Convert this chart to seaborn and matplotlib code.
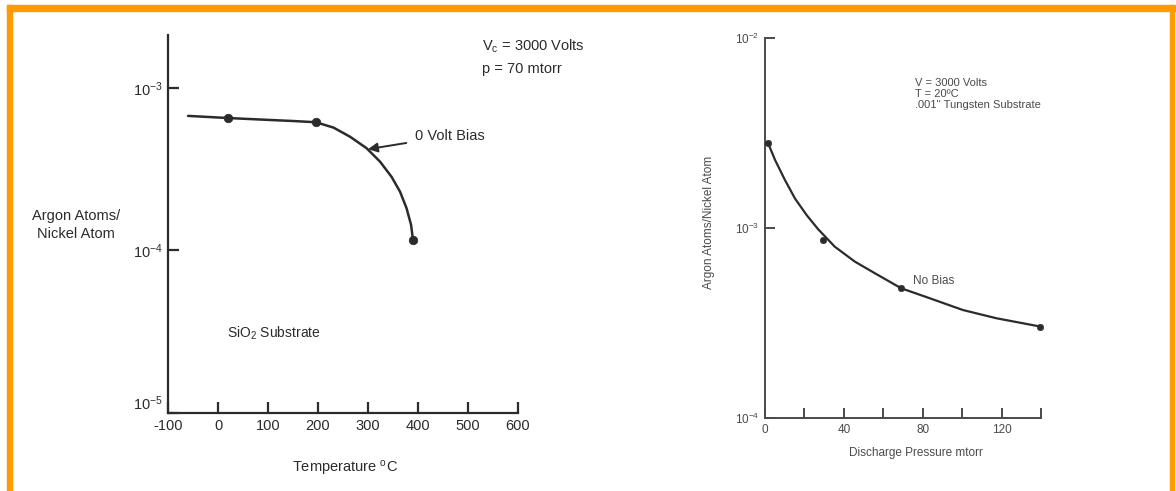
import numpy as np
import matplotlib
matplotlib.use("Agg")
import matplotlib.pyplot as plt
import seaborn as sns
from matplotlib.patches import Rectangle


# left panel: argon content vs substrate temperature (0 V bias)
temp_pts = [20, 196, 390]
temp_vals = [6.53e-4, 6.15e-4, 1.16e-4]
temp_curve_x = [-60, 20, 100, 150, 196, 231, 264, 297, 324, 347, 364,
                377, 386, 390]
temp_curve_y = [6.73e-4, 6.53e-4, 6.36e-4, 6.26e-4, 6.15e-4, 5.70e-4,
                5.01e-4, 4.26e-4, 3.52e-4, 2.84e-4, 2.30e-4, 1.82e-4,
                1.44e-4, 1.16e-4]
temp_ticks = [-100, 0, 100, 200, 300, 400, 500, 600]

# right panel: argon content vs discharge pressure (no bias)
pres_pts = [1.5, 29.5, 69, 139.5]
pres_vals = [2.81e-3, 8.65e-4, 4.82e-4, 3.03e-4]
pres_curve_x = [1.5, 5.1, 10.1, 15.2, 21.1, 27, 35.4, 45.6, 55.7, 69,
                83.5, 100.4, 117.3, 139.5]
pres_curve_y = [2.81e-3, 2.28e-3, 1.79e-3, 1.43e-3, 1.17e-3, 9.84e-4,
                7.97e-4, 6.65e-4, 5.78e-4, 4.82e-4, 4.27e-4, 3.70e-4,
                3.35e-4, 3.03e-4]
pres_ticks = [0, 20, 40, 60, 80, 100, 120, 140]
pres_labels = ["0", "", "40", "", "80", "", "120", ""]

INK = "#2b2b2b"
INK2 = "#4a4a4a"
ORANGE = "#FF9A00"

sns.set_style("ticks")
plt.rcParams["font.family"] = ["Liberation Sans", "DejaVu Sans"]
plt.rcParams["mathtext.fontset"] = "custom"
plt.rcParams["mathtext.rm"] = "Liberation Sans"
plt.rcParams["mathtext.it"] = "Liberation Sans"
plt.rcParams["axes.unicode_minus"] = False

fig = plt.figure(figsize=(11.76, 4.91), dpi=100)
fig.patch.set_facecolor("white")

##############################################################################
# LEFT PANEL
##############################################################################

ax1 = fig.add_axes([0.1429, 0.1589, 0.2976, 0.770])
sns.lineplot(x=temp_curve_x, y=temp_curve_y, ax=ax1, color=INK, lw=1.8,
             sort=False)
sns.scatterplot(x=temp_pts, y=temp_vals, ax=ax1, color=INK, s=38,
                edgecolor=INK, zorder=5, clip_on=False)
ax1.set_yscale("log")
ax1.set_xlim(-100, 600)
ax1.set_ylim(1e-5, 2.12e-3)
ax1.set_xticks(temp_ticks)
ax1.set_yticks([1e-5, 1e-4, 1e-3])
ax1.set_yticklabels([r"$10^{-5}$", r"$10^{-4}$", r"$10^{-3}$"])
ax1.yaxis.set_minor_locator(matplotlib.ticker.NullLocator())
ax1.tick_params(direction="in", length=8, width=1.6, colors=INK,
                labelsize=10.5, pad=4)
ax1.get_yticklabels()[0].set_va("bottom")
for s in ["top", "right"]:
    ax1.spines[s].set_visible(False)
for s in ["left", "bottom"]:
    ax1.spines[s].set_linewidth(1.6)
    ax1.spines[s].set_color(INK)

ax1.set_xlabel("Temperature $^{\\mathregular{o}}$C", fontsize=10.5, color=INK)
ax1.xaxis.set_label_coords(0.506, -0.122)
ax1.set_ylabel("Argon Atoms/\nNickel Atom", rotation=0, fontsize=10.5,
               color=INK, ha="center", va="center", linespacing=1.3)
ax1.yaxis.set_label_coords(-0.263, 0.497)

ax1.text(528, 1.81e-3, "V$_{\\mathregular{c}}$ = 3000 Volts", fontsize=10.5,
         color=INK, va="center", ha="left")
ax1.text(528, 1.31e-3, "p = 70 mtorr", fontsize=10.5, color=INK,
         va="center", ha="left")
ax1.text(18, 3.1e-5, "SiO$_{\\mathregular{2}}$ Substrate", fontsize=10,
         color=INK, va="center", ha="left")
ax1.annotate("0 Volt Bias", xy=(300, 4.2e-4), xytext=(394, 5.07e-4),
             fontsize=10.5, color=INK, va="center", ha="left",
             arrowprops=dict(arrowstyle="-|>", color=INK, lw=1.4,
                             shrinkA=4, shrinkB=0, mutation_scale=14))

##############################################################################
# RIGHT PANEL
##############################################################################

ax2 = fig.add_axes([0.6505, 0.1487, 0.2347, 0.774])
sns.lineplot(x=pres_curve_x, y=pres_curve_y, ax=ax2, color=INK, lw=1.6,
             sort=False)
sns.scatterplot(x=pres_pts, y=pres_vals, ax=ax2, color=INK, s=22,
                edgecolor=INK, zorder=5, clip_on=False)
ax2.set_yscale("log")
ax2.set_xlim(0, 140)
ax2.set_ylim(1e-4, 1e-2)
ax2.set_xticks(pres_ticks)
ax2.set_xticklabels(pres_labels)
ax2.set_yticks([1e-4, 1e-3, 1e-2])
ax2.set_yticklabels([r"$10^{-4}$", r"$10^{-3}$", r"$10^{-2}$"])
ax2.yaxis.set_minor_locator(matplotlib.ticker.NullLocator())
ax2.tick_params(direction="in", length=7, width=1.4, colors=INK2,
                labelsize=8.5, pad=4)
for s in ["top", "right"]:
    ax2.spines[s].set_visible(False)
for s in ["left", "bottom"]:
    ax2.spines[s].set_linewidth(1.4)
    ax2.spines[s].set_color(INK2)

ax2.set_xlabel("Discharge Pressure mtorr", fontsize=8.5, color=INK2)
ax2.xaxis.set_label_coords(0.547, -0.076)
ax2.set_ylabel("Argon Atoms/Nickel Atom", fontsize=8.5, color=INK2)
ax2.yaxis.set_label_coords(-0.181, 0.516)

ax2.text(76, 6.15e-3, "V = 3000 Volts\nT = 20ºC\n.001'' Tungsten Substrate",
         fontsize=8, color=INK2, va="top", ha="left", linespacing=1.15)
ax2.text(75, 5.26e-4, "No Bias", fontsize=8.5, color=INK2,
         va="center", ha="left")

##############################################################################
# FRAME
##############################################################################

W, H = 1176, 491
fig.patches.append(Rectangle((7 / W, 1 - 11 / H), 1 - 7 / W, 6 / H,
                             transform=fig.transFigure, color=ORANGE,
                             zorder=0))
fig.patches.append(Rectangle((7 / W, 0), 5 / W, 1 - 5 / H,
                             transform=fig.transFigure, color=ORANGE,
                             zorder=0))
fig.patches.append(Rectangle((1170 / W, 0), 4 / W, 1 - 5 / H,
                             transform=fig.transFigure, color=ORANGE,
                             zorder=0))

fig.savefig("out.png", dpi=100)
